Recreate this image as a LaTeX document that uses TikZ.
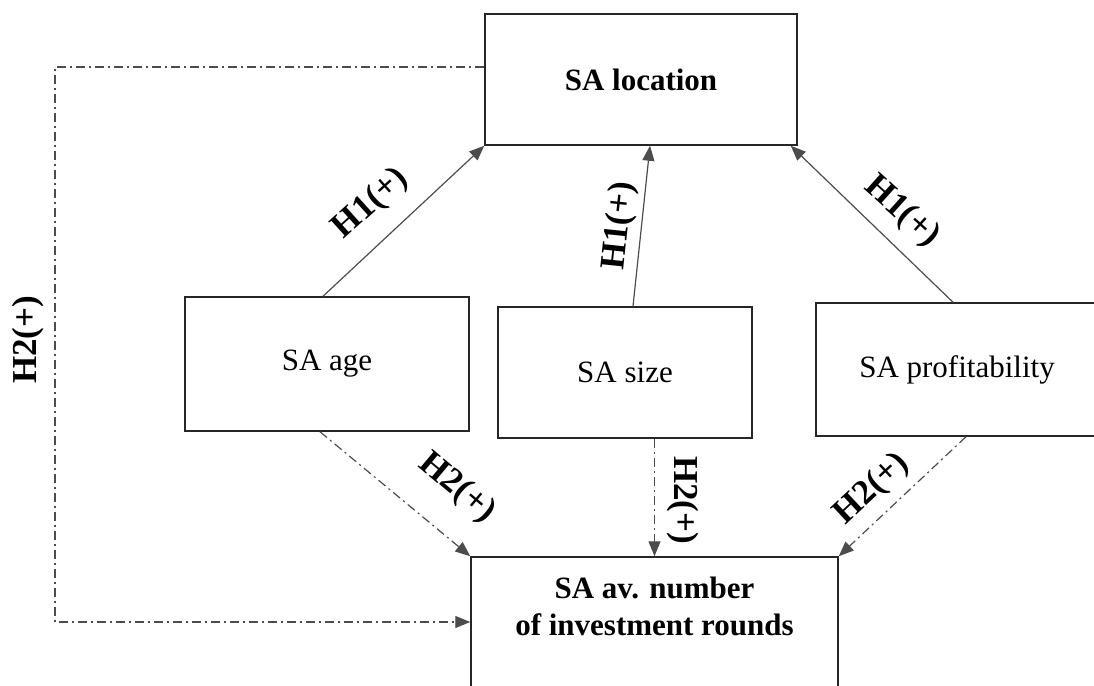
\documentclass[tikz,border=0pt]{standalone}
\usepackage{fontspec}
\setmainfont{Liberation Serif}
\usetikzlibrary{arrows.meta,calc}
\begin{document}
\begin{tikzpicture}[x=1pt,y=-1pt,
  box/.style={draw=black!85, line width=1.5pt, inner sep=0pt, text=black,
    font=\fontsize{31}{37}\selectfont},
  title/.style={font=\bfseries\fontsize{31}{37}\selectfont},
  link/.style={draw=black!70, line width=1.2pt, -{Triangle[length=15pt,width=12pt]}},
  h2link/.style={link, dash pattern=on 9pt off 4pt on 2pt off 4pt},
  lbl/.style={font=\bfseries\fontsize{35}{40}\selectfont, inner sep=0pt}
]
\useasboundingbox (0,0) rectangle (1094,685);
\clip (0,0) rectangle (1094,685);

% boxes
\node[box, title, minimum width=312pt, minimum height=131pt] (loc) at (641,79.5) {SA location};
\node[box, minimum width=284pt, minimum height=134pt] (age) at (327,364) {SA age};
\node[box, minimum width=254pt, minimum height=131pt] (size) at (625,372.5) {SA size};
\node[box, minimum width=282pt, minimum height=133pt] (profit) at (957,369.5) {SA profitability};
\node[box, minimum width=367pt, minimum height=150pt] (rounds) at (654.5,632) {};
\node[title, align=center, anchor=north, inner sep=0pt] (roundsText)
  at ([yshift=-21pt]rounds.north) {SA av. number\\of investment rounds};

% H1 links
\draw[link] ([xshift=-4pt]age.north) -- (loc.south west);
\draw[link] ([xshift=8pt]size.north) -- ([xshift=9pt]loc.south);
\draw[link] ([xshift=-4pt]profit.north) -- ([xshift=-7pt]loc.south east);

% H2 links
\draw[h2link] ([xshift=-7pt]age.south) -- (rounds.north west);
\draw[h2link] (size.south -| rounds.north) -- (rounds.north);
\draw[h2link] ([xshift=9pt]profit.south) -- (rounds.north east);
\coordinate (bend) at (55,622);
\draw[h2link] ([yshift=12.5pt]loc.west) -| (bend) -- (bend -| rounds.west);

% labels
\node[lbl, rotate=42] (l1) at (371,204) {H1(+)};
\node[lbl, rotate=84] (l2) at (620,226) {H1(+)};
\node[lbl, rotate=-42] (l3) at (902,212) {H1(+)};
\node[lbl, rotate=-40] (l4) at (457,488) {H2(+)};
\node[lbl, rotate=-90] (l5) at (683,500) {H2(+)};
\node[lbl, rotate=43] (l6) at (872,489) {H2(+)};
\node[lbl, rotate=90] (l7) at (28,340) {H2(+)};
\end{tikzpicture}
\end{document}
